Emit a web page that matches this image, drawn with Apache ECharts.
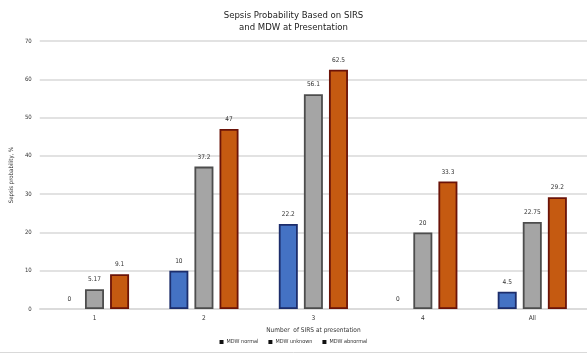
<!DOCTYPE html>
<html lang="en">
<head>
<meta charset="UTF-8">
<title>Sepsis Probability</title>
<script src="https://cdn.jsdelivr.net/npm/echarts@6/dist/echarts.min.js"></script>
<style>
  *{margin:0;padding:0}
  html,body{width:100%;height:100%;background:#fff}
  #main{width:587px;height:354px}
</style>
</head>
<body>
<div id="main"></div>
<script>
var chart = echarts.init(document.getElementById('main'));

var categories = ['1', '2', '3', '4', 'All'];
var mdwNormal = [0, 10, 22.2, 0, 4.5];
var mdwUnknown = [5.17, 37.2, 56.1, 20, 22.75];
var mdwAbnormal = [9.1, 47, 62.5, 33.3, 29.2];

var font = 'Liberation Sans Narrow, DejaVu Sans Condensed, sans-serif';

function barSeries(name, data, fill, border) {
    return {
        name: name,
        type: 'bar',
        // zero bars carry no visible outline
        data: data.map(function (v) {
            return v === 0 ? { value: v, itemStyle: { borderWidth: 0 } } : v;
        }),
        barWidth: 19,
        barGap: '32%',
        itemStyle: { color: fill, borderColor: border, borderWidth: 1.8 },
        label: {
            show: true,
            position: 'top',
            distance: 6,
            fontSize: 6.5,
            color: '#333',
            fontFamily: font
        }
    };
}

var option = {
    backgroundColor: '#fff',
    animation: false,
    title: {
        text: 'Sepsis Probability Based on SIRS\nand MDW at Presentation',
        left: 'center',
        top: 5,
        textStyle: { fontSize: 9.5, fontWeight: 'normal', color: '#222', lineHeight: 12, fontFamily: font }
    },
    legend: {
        bottom: 4,
        left: 'center',
        itemWidth: 4,
        itemHeight: 4,
        itemGap: 10,
        icon: 'rect',
        textStyle: { fontSize: 5.5, color: '#333', fontFamily: font, padding: [0, 0, 0, -2] },
        data: [
            { name: 'MDW normal', itemStyle: { color: '#111', borderWidth: 0 } },
            { name: 'MDW unknown', itemStyle: { color: '#111', borderWidth: 0 } },
            { name: 'MDW abnormal', itemStyle: { color: '#111', borderWidth: 0 } }
        ]
    },
    grid: { left: 29, right: -6, top: 41, bottom: 45 },
    xAxis: {
        type: 'category',
        data: categories,
        name: 'Number  of SIRS at presentation',
        nameLocation: 'middle',
        nameGap: 15,
        nameTextStyle: { fontSize: 6.5, color: '#333', fontFamily: font },
        axisTick: { show: false },
        axisLine: { lineStyle: { color: '#d9d9d9', width: 1.5 } },
        axisLabel: { fontSize: 6.5, color: '#333', margin: 6, fontFamily: font }
    },
    yAxis: {
        type: 'value',
        min: 0,
        max: 70,
        interval: 10,
        name: 'Sepsis probability, %',
        nameLocation: 'middle',
        nameGap: 13,
        nameTextStyle: { fontSize: 6, color: '#333', fontFamily: font },
        axisLine: { show: false },
        axisTick: { show: false },
        axisLabel: { fontSize: 6, color: '#333', margin: 8, fontFamily: font },
        splitLine: { lineStyle: { color: '#d9d9d9', width: 1.5 } }
    },
    graphic: [{
        type: 'line',
        shape: { x1: 0, y1: 352.5, x2: 587, y2: 352.5 },
        style: { stroke: '#d9d9d9', lineWidth: 1 }
    }],
    series: [
        barSeries('MDW normal', mdwNormal, '#4472C4', '#1c2d6b'),
        barSeries('MDW unknown', mdwUnknown, '#A5A5A5', '#4d4d4d'),
        barSeries('MDW abnormal', mdwAbnormal, '#C55A11', '#6b1308')
    ]
};
chart.setOption(option);
</script>
</body>
</html>
